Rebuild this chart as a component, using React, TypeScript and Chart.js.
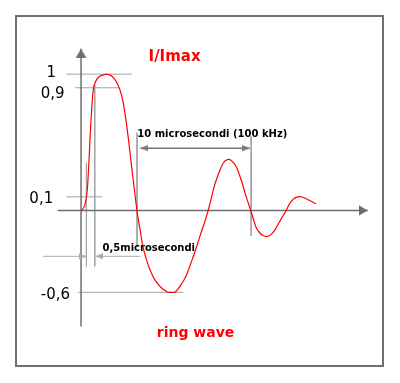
import React, { useEffect, useRef } from "react";
import { Chart, registerables } from "chart.js";
Chart.register(...registerables);

// Ring wave: time in microseconds, current as I/Imax
const timeUs = [0, 0.17, 0.34, 0.45, 0.56, 0.64, 0.73, 0.81, 0.9, 0.98, 1.05, 1.14, 1.27, 1.46, 1.71, 1.98, 2.18, 2.39, 2.65, 2.91, 3.16, 3.38, 3.55, 3.7, 3.89, 4.1, 4.27, 4.44, 4.66, 4.9, 5.17, 5.44, 5.73, 6.07, 6.41, 6.75, 7.09, 7.44, 7.69, 7.95, 8.21, 8.46, 8.8, 9.15, 9.44, 9.74, 10.15, 10.57, 10.86, 11.14, 11.39, 11.65, 11.92, 12.2, 12.48, 12.74, 12.99, 13.25, 13.55, 13.85, 14.13, 14.4, 14.64, 14.87, 15.13, 15.38, 15.68, 15.98, 16.32, 16.67, 17.01, 17.35, 17.69, 17.97, 18.29, 18.63, 18.97, 19.32, 19.66, 20.0, 20.34, 20.6];
const ringWave = [0, 0.011, 0.043, 0.086, 0.165, 0.28, 0.42, 0.57, 0.7, 0.8, 0.87, 0.915, 0.945, 0.97, 0.988, 0.995, 1.0, 0.997, 0.988, 0.968, 0.935, 0.892, 0.845, 0.79, 0.69, 0.56, 0.44, 0.316, 0.165, 0, -0.14, -0.27, -0.36, -0.44, -0.5, -0.54, -0.57, -0.59, -0.6, -0.6, -0.6, -0.58, -0.54, -0.49, -0.43, -0.36, -0.26, -0.15, -0.08, 0, 0.08, 0.17, 0.24, 0.3, 0.35, 0.37, 0.375, 0.36, 0.33, 0.27, 0.2, 0.12, 0.06, 0, -0.07, -0.13, -0.165, -0.185, -0.19, -0.175, -0.14, -0.09, -0.04, 0, 0.05, 0.085, 0.1, 0.1, 0.09, 0.075, 0.06, 0.05];

// Reference levels and their labels
const levelValues = [1, 0.9, 0.1, -0.6];
const levelLabels = ["1", "0,9", "0,1", "-0,6"];
const levelLineFrom = [-1.28, -0.51, -1.28, -0.26];
const levelLineTo = [4.44, 3.33, 1.88, 8.97];
const levelLabelX = [-3.02, -3.53, -4.53, -3.53];
const levelLabelY = [0.979, 0.823, 0.057, -0.65];

// Rise-time markers (10% and 90% crossings)
const riseMarkX = [0.47, 1.2];
const riseMarkTop = [0.35, 0.92];
const riseMarkBottom = [-0.41, -0.41];
const riseArrowY = -0.336;
const riseArrowLeft = [-3.33, 0.43];
const riseArrowRight = [1.28, 5.21];

// Period markers (10 µs)
const periodMarkX = [4.91, 14.91];
const periodMarkTop = [0.57, 0.543];
const periodMarkBottom = [-0.264, -0.186];
const periodArrowY = 0.457;
const periodArrowFrom = 5.21;
const periodArrowTo = 14.79;

// Axes
const axisXFrom = -2.05;
const axisXTo = 25.13;
const axisYFrom = -0.85;
const axisYTo = 1.186;

// Texts
const titleText = "I/Imax";
const bottomText = "ring wave";
const periodText = "10 microsecondi (100 kHz)";
const riseText = "0,5microsecondi";

const X_MIN = -6.6667;
const X_MAX = 27.5214;
const Y_MIN = -1.228571;
const Y_MAX = 1.507143;

const AXIS_COLOR = "#6e6e6e";
const LIGHT = "#a3a3a3";
const FONT = "'DejaVu Sans', sans-serif";

function arrowImage(len: number, wid: number, color: string) {
  const c = document.createElement("canvas");
  c.width = Math.ceil(len * 2);
  c.height = Math.ceil(wid) + 2;
  const ctx = c.getContext("2d")!;
  const cy = c.height / 2;
  const tipX = c.width / 2;
  ctx.fillStyle = color;
  ctx.beginPath();
  ctx.moveTo(tipX, cy);
  ctx.lineTo(tipX - len, cy - wid / 2);
  ctx.lineTo(tipX - len, cy + wid / 2);
  ctx.closePath();
  ctx.fill();
  return c;
}

function seg(x1: number, y1: number, x2: number, y2: number, color: string, width: number) {
  return {
    type: "line" as const,
    data: [{ x: x1, y: y1 }, { x: x2, y: y2 }],
    borderColor: color,
    borderWidth: width,
    pointRadius: 0,
    tension: 0,
    order: 5,
  };
}

function arrowPoint(x: number, y: number, rot: number, img: HTMLCanvasElement) {
  return {
    type: "line" as const,
    data: [{ x, y }],
    showLine: false,
    pointStyle: img,
    pointRotation: rot,
    pointRadius: 3,
    order: 4,
  };
}

export default function App() {
  const ref = useRef<HTMLCanvasElement>(null);
  useEffect(() => {
    if (!ref.current) return;
    const axisHead = arrowImage(9, 10.5, AXIS_COLOR);
    const periodHead = arrowImage(8, 6.5, "#777777");
    const riseHead = arrowImage(7, 6, "#aaaaaa");

    const datasets: any[] = [
      {
        type: "line",
        data: timeUs.map((t, i) => ({ x: t, y: ringWave[i] })),
        borderColor: "#ff0000",
        borderWidth: 1.2,
        pointRadius: 0,
        tension: 0.4,
        order: 0,
      },
      seg(axisXFrom, 0, axisXTo, 0, AXIS_COLOR, 1.5),
      seg(0, axisYFrom, 0, axisYTo, AXIS_COLOR, 1.5),
      arrowPoint(axisXTo, 0, 0, axisHead),
      arrowPoint(0, axisYTo, -90, axisHead),
    ];
    levelValues.forEach((v, i) => {
      datasets.push(seg(levelLineFrom[i], v, levelLineTo[i], v, LIGHT, 1));
    });
    riseMarkX.forEach((x, i) => {
      datasets.push(seg(x, riseMarkTop[i], x, riseMarkBottom[i], LIGHT, 1));
    });
    periodMarkX.forEach((x, i) => {
      datasets.push(seg(x, periodMarkTop[i], x, periodMarkBottom[i], LIGHT, 1));
    });
    datasets.push(seg(riseArrowLeft[0], riseArrowY, riseArrowLeft[1], riseArrowY, "#aaaaaa", 1));
    datasets.push(seg(riseArrowRight[0], riseArrowY, riseArrowRight[1], riseArrowY, "#aaaaaa", 1));
    datasets.push(arrowPoint(riseArrowLeft[1], riseArrowY, 0, riseHead));
    datasets.push(arrowPoint(riseArrowRight[0], riseArrowY, 180, riseHead));
    datasets.push(seg(periodArrowFrom, periodArrowY, periodArrowTo, periodArrowY, "#777777", 1.5));
    datasets.push(arrowPoint(periodArrowFrom, periodArrowY, 180, periodHead));
    datasets.push(arrowPoint(periodArrowTo, periodArrowY, 0, periodHead));

    const texts = [
      { text: titleText, x: 8.2, y: 1.1, font: `bold 15px ${FONT}`, color: "#ff0000", align: "center" },
      { text: bottomText, x: 10.04, y: -0.929, font: `bold 14px ${FONT}`, color: "#ff0000", align: "center" },
      { text: periodText, x: 4.93, y: 0.536, font: `bold 10px ${FONT}`, color: "#000000", align: "left" },
      { text: riseText, x: 1.88, y: -0.298, font: `bold 10px ${FONT}`, color: "#000000", align: "left" },
      ...levelLabels.map((s, i) => ({
        text: s,
        x: levelLabelX[i],
        y: levelLabelY[i],
        font: `15px ${FONT}`,
        color: "#000000",
        align: "left",
      })),
    ];

    const textPlugin = {
      id: "texts",
      afterDatasetsDraw(chart: any) {
        const ctx = chart.ctx;
        const xs = chart.scales.x;
        const ys = chart.scales.y;
        ctx.save();
        texts.forEach((t) => {
          ctx.font = t.font;
          ctx.fillStyle = t.color;
          ctx.textAlign = t.align;
          ctx.textBaseline = "alphabetic";
          ctx.fillText(t.text, xs.getPixelForValue(t.x), ys.getPixelForValue(t.y));
        });
        ctx.restore();
      },
    };

    const chart = new Chart(ref.current, {
      type: "line",
      data: { datasets },
      options: {
        animation: false,
        responsive: false,
        devicePixelRatio: 1,
        events: [],
        layout: { padding: 0 },
        plugins: { legend: { display: false }, tooltip: { enabled: false } },
        scales: {
          x: { type: "linear", min: X_MIN, max: X_MAX, display: false },
          y: { type: "linear", min: Y_MIN, max: Y_MAX, display: false },
        },
      },
      plugins: [textPlugin],
    });
    return () => chart.destroy();
  }, []);

  return (
    <div style={{ position: "fixed", left: 0, top: 0, width: 400, height: 383, background: "#fff" }}>
      <canvas ref={ref} width={400} height={383} style={{ position: "absolute", left: 0, top: 0 }} />
      <div
        style={{
          position: "absolute",
          left: 15,
          top: 15,
          width: 365,
          height: 348,
          border: "2px solid #707070",
          pointerEvents: "none",
        }}
      />
    </div>
  );
}
